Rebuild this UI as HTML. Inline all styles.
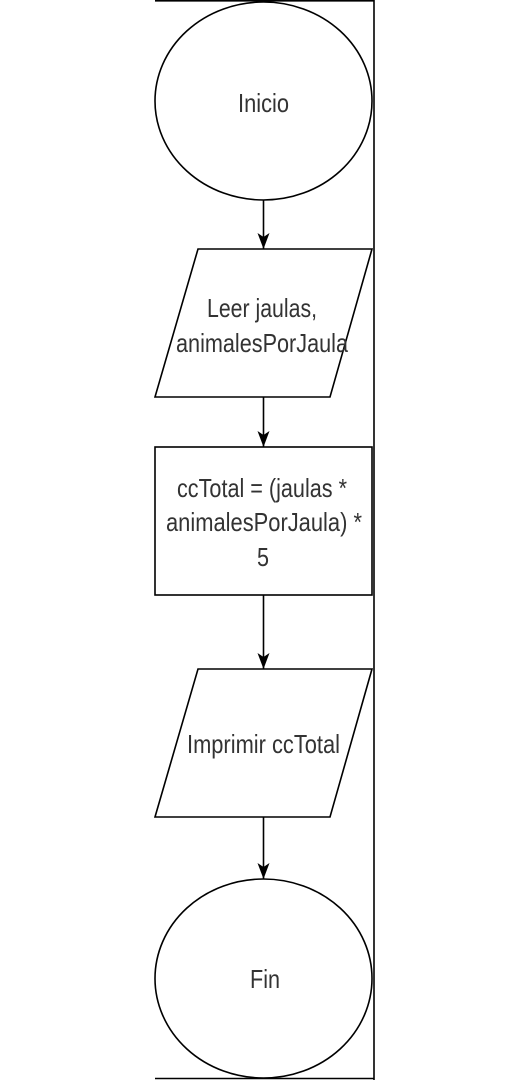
<!DOCTYPE html>
<html><head><meta charset="utf-8"><style>html,body{margin:0;padding:0;background:#fff;width:531px;height:1080px;overflow:hidden}svg{display:block}</style></head>
<body>
<svg width="531" height="1080" viewBox="0 0 531 1080" xmlns="http://www.w3.org/2000/svg">
<defs><marker id="a" markerWidth="16" markerHeight="12" refX="16" refY="6" orient="auto" markerUnits="userSpaceOnUse" viewBox="0 0 16 12"><path d="M0,0 L16,6 L0,12 L4,6 Z" fill="#000"/></marker></defs>
<g stroke="#000" stroke-width="1.6" fill="none">
<line x1="155" y1="0.8" x2="374" y2="0.8"/>
<line x1="374" y1="0" x2="374" y2="1080"/>
<line x1="155" y1="1078.5" x2="374" y2="1078.5"/>
<ellipse cx="263.5" cy="101" rx="108.5" ry="99" fill="#fff"/>
<polygon points="198,249 372,249 330,397 155,397" fill="#fff"/>
<rect x="155" y="447" width="217" height="148" fill="#fff"/>
<polygon points="198,669 372,669 330,817 155,817" fill="#fff"/>
<ellipse cx="263.5" cy="978.5" rx="108.5" ry="99.5" fill="#fff"/>
</g>
<g stroke="#000" stroke-width="1.6">
<line x1="263.5" y1="200" x2="263.5" y2="249" marker-end="url(#a)"/>
<line x1="263.5" y1="397" x2="263.5" y2="447" marker-end="url(#a)"/>
<line x1="263.5" y1="595" x2="263.5" y2="669" marker-end="url(#a)"/>
<line x1="263.5" y1="817" x2="263.5" y2="879" marker-end="url(#a)"/>
</g>
<g font-family="Liberation Sans, sans-serif" font-size="26" fill="#333" text-anchor="middle">
<text x="263.5" y="112" textLength="51" lengthAdjust="spacingAndGlyphs">Inicio</text>
<text x="262" y="317" textLength="110" lengthAdjust="spacingAndGlyphs">Leer jaulas,</text>
<text x="262" y="352" textLength="172" lengthAdjust="spacingAndGlyphs">animalesPorJaula</text>
<text x="262" y="497" textLength="170" lengthAdjust="spacingAndGlyphs">ccTotal = (jaulas *</text>
<text x="264" y="531" textLength="196" lengthAdjust="spacingAndGlyphs">animalesPorJaula) *</text>
<text x="263" y="566" textLength="12" lengthAdjust="spacingAndGlyphs">5</text>
<text x="263.5" y="753" textLength="153" lengthAdjust="spacingAndGlyphs">Imprimir ccTotal</text>
<text x="265" y="988" textLength="30" lengthAdjust="spacingAndGlyphs">Fin</text>
</g>
</svg>
</body></html>
